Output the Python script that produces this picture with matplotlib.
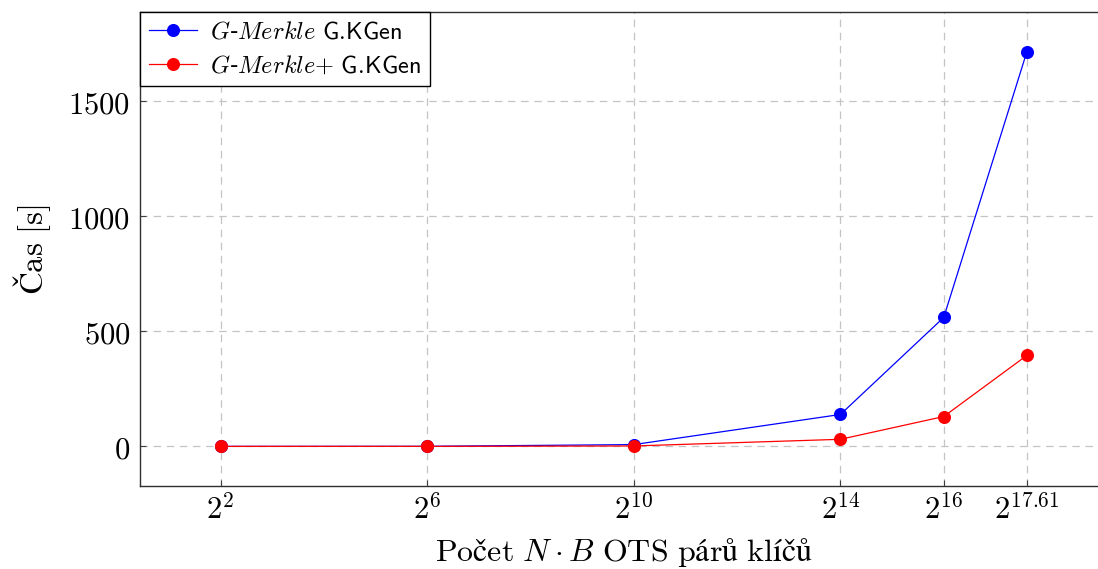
import matplotlib
matplotlib.use("Agg")
import matplotlib.pyplot as plt

plt.rcParams["mathtext.fontset"] = "cm"
plt.rcParams["font.family"] = ["DejaVu Serif"]

# Key-pair counts as powers of two (exponents) and generation times in seconds
exponents = [2, 6, 10, 14, 16, 17.61]
tick_labels = [r"$2^{2}$", r"$2^{6}$", r"$2^{10}$", r"$2^{14}$", r"$2^{16}$", r"$2^{17.61}$"]
gmerkle_times = [0.2, 0.5, 8, 139, 561, 1717]
gmerkle_plus_times = [0.1, 0.3, 2, 31, 130, 396]
y_ticks = [0, 500, 1000, 1500]

fig = plt.figure(figsize=(10.98, 5.69), dpi=100)
ax = fig.add_axes([0.1275, 0.1459, 0.8812, 0.8330])

ax.plot(exponents, gmerkle_times, color="blue", lw=0.9, marker="o", ms=8.4,
        label=r"$G$-$Merkle$ $\mathsf{G.\!KGen}$", zorder=3)
ax.plot(exponents, gmerkle_plus_times, color="red", lw=0.9, marker="o", ms=8.4,
        label=r"$G$-$Merkle{+}$ $\mathsf{G.\!KGen}$", zorder=3)

ax.set_xlim(0.439, 19.171)
ax.set_ylim(-172, 1889)
ax.set_xticks(exponents)
ax.set_xticklabels(tick_labels)
ax.set_yticks(y_ticks)
ax.set_yticklabels([f"${v}$" for v in y_ticks])

ax.tick_params(axis="both", direction="in", length=4, width=0.8, labelsize=22,
               color="#404040", top=False, right=False)
ax.tick_params(axis="x", pad=6)
ax.tick_params(axis="y", pad=7)

ax.grid(True, color="#c4c4c4", linestyle=(0, (6, 4.5)), linewidth=0.9)
ax.set_axisbelow(True)
for side in ax.spines.values():
    side.set_color("#303030")
    side.set_linewidth(1.0)

ax.set_xlabel(r"$\mathrm{Počet}\ N \cdot B\ \mathrm{OTS\ párů\ klíčů}$", fontsize=23, labelpad=8)
ax.set_ylabel(r"$\mathrm{Čas\ [s]}$", fontsize=23.5, labelpad=11)

leg = ax.legend(loc="upper left", fontsize=17.5, frameon=True, fancybox=False,
                borderaxespad=0, edgecolor="black", framealpha=1,
                handlelength=2.0, handletextpad=0.55, borderpad=0.35,
                labelspacing=0.45)
leg.get_frame().set_linewidth(1.0)

fig.savefig("out.png", dpi=100)
